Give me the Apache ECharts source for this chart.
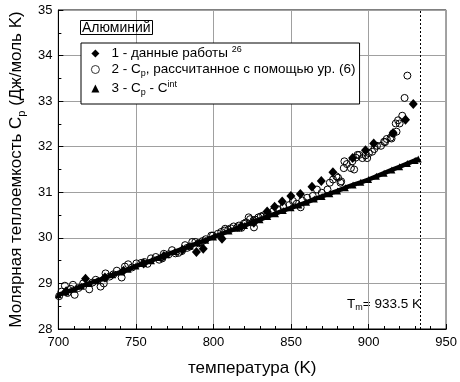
<!DOCTYPE html>
<html>
<head>
<meta charset="utf-8">
<script src="https://cdn.jsdelivr.net/npm/echarts@6/dist/echarts.min.js"></script>
<style>html,body{margin:0;padding:0;background:#fff}#c{width:460px;height:382px}</style>
</head>
<body>
<div id="c"></div>
<script>
// ---- data ----
const panelTitle = 'Алюминий';
const legendLabels = [
  '{n|1 - данные работы }{sup|26}',
  '{n|2 - C}{sub|p}{n|, рассчитанное с помощью ур. (6)}',
  '{n|3 - C}{sub|p}{n| - C}{sup|int}'
];
const xAxisName = 'температура (K)';
const yAxisName = '{n|Молярная теплоемкость C}{sub|p}{n| (Дж/моль K)}';
const meltingT = 933.5;
const meltingLabel = '{n|T}{sub|m}{n|= 933.5 K}';
const xMin = 700, xMax = 950, xStep = 50;
const yMin = 28, yMax = 35, yStep = 1;

// series 1: data of work 26 (filled diamonds)
const dataWork = [
  [705,28.83],[717.5,29.1],[730,29.13],[742,29.28],[755,29.44],[768,29.6],[780,29.74],
  [789,29.69],[793.4,29.76],[805.5,29.98],[818,30.25],[826,30.33],[834.6,30.58],[839.4,30.68],
  [844.3,30.8],[849.9,30.92],[856,30.96],[863.5,31.12],[869.5,31.25],[877,31.44],
  [889.7,31.75],[898,31.92],[903.3,32.07],[915.8,32.3],[923.8,32.59],[928.8,32.94]
];

// series 2: Cp calculated with eq. (6) (open circles)
const dataCalc = [
  [700.5,28.72],[702,28.82],[704.2,28.95],[705.9,28.79],[708,28.88],[709.4,28.97],[710.5,28.75],
  [713,28.9],[716,29.0],[719.9,28.87],[722,29.02],[724.1,29.08],[727.2,28.93],[729.3,29.0],
  [730.4,29.22],[733,29.15],[735.5,29.2],[737.7,29.28],[740.8,29.13],[742.9,29.37],[745,29.42],
  [747.5,29.35],[750.3,29.44],[753.4,29.45],[755.5,29.47],[757.5,29.43],[759.7,29.55],[762.8,29.58],
  [765,29.52],[767,29.55],[768,29.65],[771.2,29.64],[773.3,29.73],[775.5,29.66],[777.4,29.67],
  [779.6,29.71],[781.7,29.84],[783,29.78],[784.8,29.81],[786.3,29.91],[788.3,29.91],[790.5,29.88],
  [793,29.93],[795,29.97],[798.6,30.05],[799.6,30.05],[802.8,30.09],[805,30.13],[807,30.16],
  [807.5,30.2],[809.5,30.18],[811.2,30.21],[813,30.25],[815.4,30.23],[816.4,30.27],[818,30.22],
  [819.5,30.31],[821,30.34],[822.7,30.45],[823.6,30.41],[825.8,30.38],[826.1,30.23],[827,30.4],
  [829,30.45],[830.5,30.47],[832.1,30.49],[834.3,30.49],[835.2,30.52],[838.4,30.58],[841.5,30.63],
  [845.1,30.68],[848.9,30.72],[851.2,30.81],[853.7,30.75],[856.2,30.67],[857.2,30.82],[860.4,30.88],
  [864,30.92],[866.7,31.06],[869.8,30.99],[873.5,31.06],[875,31.21],[877.1,31.28],[879.2,31.35],
  [880.3,31.32],[881.9,31.21],[882.3,31.24],[884,31.53],[884.4,31.68],[886,31.62],[888.6,31.53],
  [889.5,31.68],[890.7,31.5],[891.7,31.76],[892.8,31.82],[893.9,31.82],[896,31.75],[898,31.81],
  [899.1,31.75],[900.2,31.86],[902.3,31.89],[903.7,31.95],[905.4,32.02],[908,32.02],[910,32.11],
  [910.6,32.1],[911.7,32.17],[914.2,32.2],[914.8,32.18],[915.8,32.29],[917.5,32.51],[918,32.33],
  [919,32.58],[920,32.51],[921.7,32.68],[923.2,33.07],[925,33.56]
];

// series 3: Cp - C_int (small triangles, dense band)
const intT = [700,705,710,715,720,725,730,735,740,745,750,755,760,765,770,775,780,785,790,795,
  800,805,810,815,820,825,830,835,840,845,850,855,860,865,870,875,880,885,890,895,
  900,905,910,915,920,925,930,932];
const intCp = [28.75,28.81,28.87,28.94,29.00,29.06,29.12,29.19,29.25,29.31,29.38,29.44,29.50,29.57,
  29.63,29.70,29.76,29.82,29.89,29.95,30.02,30.08,30.15,30.21,30.27,30.34,30.40,30.47,30.53,30.60,
  30.66,30.72,30.78,30.85,30.91,30.97,31.03,31.10,31.16,31.22,31.28,31.35,31.42,31.49,31.56,31.63,
  31.70,31.73];

// ---- chart ----
const FONT = 'Liberation Sans, Arial, sans-serif';
const chart = echarts.init(document.getElementById('c'), null, {renderer: 'canvas'});
const names = ['s1', 's2', 's3'];
const subRich = {
  n: {fontSize: 13.5, fontFamily: FONT, color: '#000'},
  sub: {fontSize: 9, fontFamily: FONT, color: '#000', padding: [8, 0, 0, 0]},
  sup: {fontSize: 9, fontFamily: FONT, color: '#000', padding: [0, 0, 8, 0]}
};
chart.setOption({
  animation: false,
  backgroundColor: '#fff',
  title: {
    text: panelTitle, left: 80, top: 20, padding: [1, 2, 0, 2],
    borderColor: '#000', borderWidth: 1,
    textStyle: {fontSize: 14, fontWeight: 'normal', fontFamily: FONT, color: '#000'}
  },
  legend: {
    orient: 'vertical', left: 81, top: 43,
    padding: [2, 4, 7, 10], itemGap: 2, itemWidth: 8, itemHeight: 8,
    borderColor: '#000', borderWidth: 1, backgroundColor: '#fff',
    data: [
      {name: 's1', icon: 'diamond'},
      {name: 's2', icon: 'circle', itemStyle: {color: '#fff', borderColor: '#000', borderWidth: 0.8}},
      {name: 's3', icon: 'triangle'}
    ],
    formatter: function (name) { return legendLabels[names.indexOf(name)]; },
    textStyle: {
      padding: [0, 0, 0, 7],
      rich: {
        n: {fontSize: 13.5, fontFamily: FONT, color: '#000'},
        sub: subRich.sub, sup: subRich.sup
      }
    }
  },
  grid: {left: 53, right: 9, top: 10, bottom: 49, show: true, borderColor: '#000', borderWidth: 1, backgroundColor: 'transparent'},
  xAxis: {
    type: 'value', min: xMin, max: xMax, interval: xStep,
    name: xAxisName, nameLocation: 'middle', nameGap: 31,
    nameTextStyle: {fontSize: 17, fontFamily: FONT, color: '#000'},
    axisLine: {lineStyle: {color: '#000', width: 1}},
    axisTick: {inside: true, length: 5, lineStyle: {color: '#000'}},
    minorTick: {show: true, splitNumber: 5, length: 3, lineStyle: {color: '#000'}},
    axisLabel: {fontSize: 13, fontFamily: FONT, color: '#000', margin: 7},
    splitLine: {show: true, lineStyle: {color: '#a0a0a0', width: 1}}
  },
  yAxis: {
    type: 'value', min: yMin, max: yMax, interval: yStep,
    name: yAxisName, nameLocation: 'middle', nameGap: 29,
    nameTextStyle: {fontSize: 17, fontFamily: FONT, color: '#000',
      rich: {n: {fontSize: 17, fontFamily: FONT, color: '#000'},
             sub: {fontSize: 11, fontFamily: FONT, color: '#000', padding: [10, 0, 0, 0]}}},
    axisLine: {show: true, lineStyle: {color: '#000', width: 1}},
    axisTick: {show: true, inside: true, length: 5, lineStyle: {color: '#000'}},
    minorTick: {show: true, splitNumber: 2, length: 3, lineStyle: {color: '#000'}},
    axisLabel: {fontSize: 13, fontFamily: FONT, color: '#000', margin: 6},
    splitLine: {show: true, lineStyle: {color: '#a0a0a0', width: 1}}
  },
  series: [
    {
      name: 's1', type: 'scatter', data: dataWork,
      symbol: 'diamond', symbolSize: [9, 10],
      itemStyle: {color: '#000', opacity: 1}, z: 2,
      markLine: {
        silent: true, symbol: ['none', 'none'], label: {show: false},
        lineStyle: {type: [2, 2], color: '#000', width: 1},
        data: [{xAxis: meltingT}]
      }
    },
    {
      name: 's2', type: 'scatter', data: dataCalc,
      symbol: 'circle', symbolSize: 7,
      itemStyle: {color: 'rgba(255,255,255,0)', borderColor: '#000', borderWidth: 1, opacity: 1}, z: 3
    },
    {
      name: 's3', type: 'line', data: intT.map((t, i) => [t, intCp[i]]),
      symbol: 'triangle', symbolSize: 7, showSymbol: true,
      lineStyle: {color: '#000', width: 4.5}, itemStyle: {color: '#000'}, z: 4
    }
  ],
  graphic: [{
    type: 'text', x: 421, y: 304,
    style: {text: meltingLabel, align: 'right', verticalAlign: 'middle', rich: subRich}
  }]
});
</script>
</body>
</html>
